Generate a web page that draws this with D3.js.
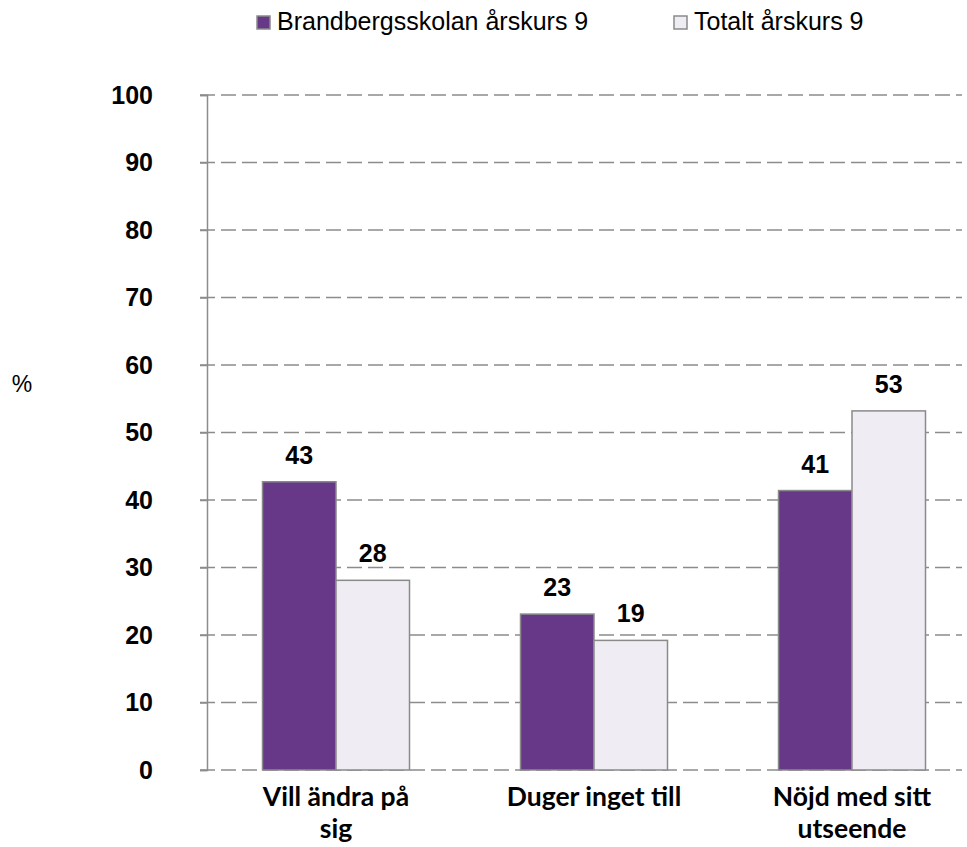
<!DOCTYPE html>
<html>
<head>
<meta charset="utf-8">
<script src="https://cdn.jsdelivr.net/npm/d3@7"></script>
<style>
  body { margin: 0; background: #fff; }
  svg { display: block; }
</style>
</head>
<body>
<svg id="chart" width="967" height="847"></svg>
<script>
const categories = [['Vill ändra på', 'sig'], ['Duger inget till'], ['Nöjd med sitt', 'utseende']];
const seriesNames = ['Brandbergsskolan årskurs 9', 'Totalt årskurs 9'];
const schoolValues = [42.7, 23.1, 41.4];
const totalValues = [28.1, 19.2, 53.2];
const yTicks = [0, 10, 20, 30, 40, 50, 60, 70, 80, 90, 100];

const plotTop = 95;
const plotBottom = 770;
const plotLeft = 207;
const gridRight = 962;

const colors = ['#673887', '#efecf4'];

const svg = d3.select('#chart');

const rows = categories.map((c, i) => ({
  key: c.join(' '),
  lines: c,
  values: [schoolValues[i], totalValues[i]]
}));

const x0 = d3.scaleBand()
  .domain(rows.map(d => d.key))
  .range([plotLeft, plotLeft + 258 * 3])
  .padding(0);

const x1 = d3.scaleBand()
  .domain(seriesNames)
  .range([55.5, x0.bandwidth() - 55.5])
  .padding(0);

const y = d3.scaleLinear()
  .domain([0, 100])
  .range([plotBottom, plotTop]);

// gridlines
svg.append('g')
  .selectAll('line')
  .data(yTicks)
  .enter()
  .append('line')
  .attr('x1', plotLeft - 7)
  .attr('x2', gridRight)
  .attr('y1', d => y(d))
  .attr('y2', d => y(d))
  .attr('stroke', '#8c8c8c')
  .attr('stroke-width', 1.5)
  .attr('stroke-dasharray', '15,6');

// y axis
const leftAxis = d3.axisLeft(y)
  .tickValues(yTicks)
  .tickSize(7)
  .tickPadding(47);

const yAxis = svg.append('g')
  .attr('transform', `translate(${plotLeft}, 0)`)
  .call(leftAxis);

yAxis.select('.domain').attr('stroke', '#8c8c8c').attr('stroke-width', 1.5);
yAxis.selectAll('.tick line').attr('stroke', '#8c8c8c').attr('stroke-width', 1.5);
yAxis.selectAll('.tick text')
  .attr('font-family', 'Liberation Sans, Arial, sans-serif')
  .attr('font-weight', 'bold')
  .attr('font-size', 25)
  .attr('fill', '#000');

// bars
const groups = svg.append('g')
  .selectAll('g')
  .data(rows)
  .enter()
  .append('g')
  .attr('transform', d => `translate(${x0(d.key)}, 0)`);

groups.selectAll('rect')
  .data(d => d.values.map((v, i) => ({ name: seriesNames[i], value: v, i })))
  .enter()
  .append('rect')
  .attr('x', d => x1(d.name))
  .attr('y', d => y(d.value))
  .attr('width', x1.bandwidth())
  .attr('height', d => plotBottom - y(d.value))
  .attr('fill', d => colors[d.i])
  .attr('stroke', '#8a8a8a')
  .attr('stroke-width', 1.5);

groups.selectAll('text.value')
  .data(d => d.values.map((v, i) => ({ name: seriesNames[i], value: v })))
  .enter()
  .append('text')
  .attr('class', 'value')
  .attr('x', d => x1(d.name) + x1.bandwidth() / 2)
  .attr('y', d => y(d.value) - 18)
  .attr('text-anchor', 'middle')
  .attr('font-family', 'Liberation Sans, Arial, sans-serif')
  .attr('font-weight', 'bold')
  .attr('font-size', 25)
  .text(d => d3.format('.0f')(d.value));

// category labels, one text per line
groups.selectAll('text.cat')
  .data(d => d.lines)
  .enter()
  .append('text')
  .attr('class', 'cat')
  .attr('x', x0.bandwidth() / 2)
  .attr('y', (d, i) => 806 + i * 32)
  .attr('text-anchor', 'middle')
  .attr('font-family', 'Lato, sans-serif')
  .attr('font-weight', 'bold')
  .attr('font-size', 26.5)
  .text(d => d);

// y axis title
svg.append('text')
  .attr('x', 22)
  .attr('y', 392)
  .attr('text-anchor', 'middle')
  .attr('font-family', 'Liberation Sans, Arial, sans-serif')
  .attr('font-size', 23)
  .text('%');

// legend
const legendX = [257, 674];
const legend = svg.append('g')
  .selectAll('g')
  .data(seriesNames)
  .enter()
  .append('g')
  .attr('transform', (d, i) => `translate(${legendX[i]}, 16)`);

legend.append('rect')
  .attr('width', 13)
  .attr('height', 13)
  .attr('fill', (d, i) => colors[i])
  .attr('stroke', '#8a8a8a')
  .attr('stroke-width', 1.5);

legend.append('text')
  .attr('x', 20)
  .attr('y', 14)
  .attr('font-family', 'Liberation Sans, Arial, sans-serif')
  .attr('font-size', 25)
  .text(d => d);
</script>
</body>
</html>
